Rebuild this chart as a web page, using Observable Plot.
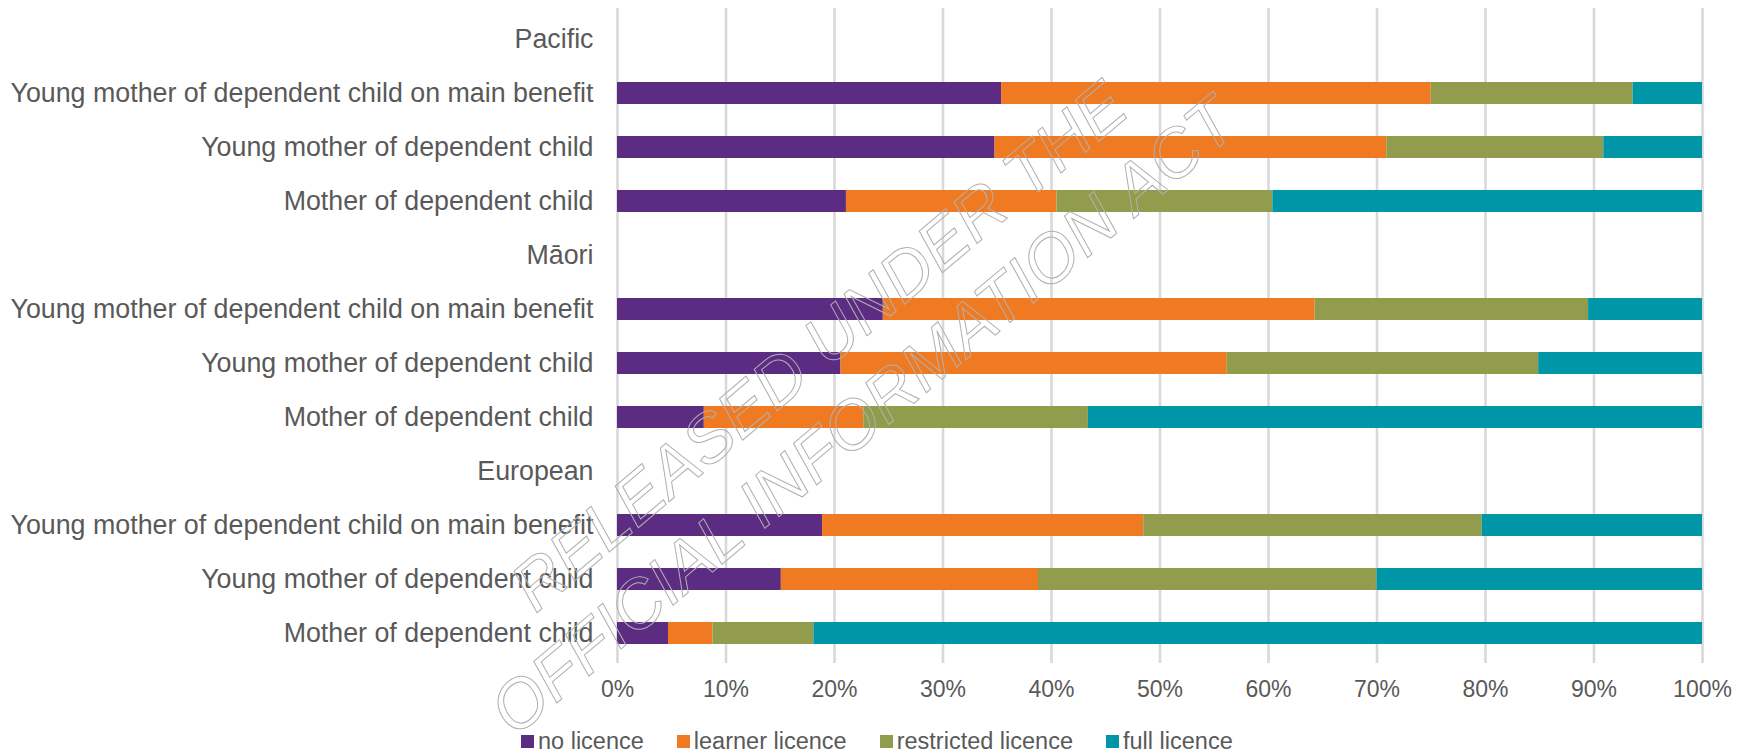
<!DOCTYPE html>
<html>
<head>
<meta charset="utf-8">
<script src="https://cdn.jsdelivr.net/npm/d3@7"></script>
<script src="https://cdn.jsdelivr.net/npm/@observablehq/plot@0.6"></script>
<style>
  html, body { margin: 0; padding: 0; background: #fff; }
  #wrap { position: relative; width: 1750px; height: 754px; overflow: hidden; font-family: "Liberation Sans", Arial, sans-serif; }
  #legend { position: absolute; left: 521px; top: 728px; height: 26px; display: flex; align-items: center; font-size: 23.5px; line-height: 26px; color: #595959; }
  #legend .item { display: flex; align-items: center; margin-right: 33px; }
  #legend .sw { width: 13px; height: 13px; margin-right: 4px; }
  #wm { position: absolute; left: 0; top: 0; pointer-events: none; }
</style>
</head>
<body>
<div id="wrap">
  <div id="chart"></div>
  <div id="legend"></div>
  <svg id="wm" width="1750" height="754"></svg>
</div>
<script>
// ---- data ----
const groups = ["Pacific", "Māori", "European"];
const categories = [
  "Young mother of dependent child on main benefit",
  "Young mother of dependent child",
  "Mother of dependent child"
];
const licenceTypes = ["no licence", "learner licence", "restricted licence", "full licence"];
const licenceColors = ["#5B2C82", "#F07A22", "#929C4D", "#0096A8"];
// values in percent, row order: Pacific (3), Māori (3), European (3)
const noLicence         = [35.4, 34.8, 21.1, 24.5, 20.6,  8.0, 18.9, 15.1,  4.7];
const learnerLicence    = [39.6, 36.1, 19.4, 39.8, 35.6, 14.7, 29.6, 23.7,  4.1];
const restrictedLicence = [18.6, 20.0, 19.9, 25.2, 28.7, 20.7, 31.2, 31.2,  9.3];
const fullLicence       = [ 6.4,  9.1, 39.6, 10.5, 15.1, 56.6, 20.3, 30.0, 81.9];
const xTicks = [0, 0.1, 0.2, 0.3, 0.4, 0.5, 0.6, 0.7, 0.8, 0.9, 1];
const watermarkLines = ["RELEASED UNDER THE", "OFFICIAL INFORMATION ACT"];

// ---- build table ----
const series = [noLicence, learnerLicence, restrictedLicence, fullLicence];
const rowKeys = [];
const data = [];
groups.forEach((g, gi) => {
  rowKeys.push(g);
  categories.forEach((c, ci) => {
    const key = g + "|" + c;
    rowKeys.push(key);
    const idx = gi * categories.length + ci;
    licenceTypes.forEach((l, li) => {
      data.push({row: key, licence: l, value: series[li][idx]});
    });
  });
});

const chart = Plot.plot({
  width: 1750,
  height: 712,
  marginLeft: 617,
  marginRight: 48,
  marginTop: 8,
  marginBottom: 49,
  style: {fontFamily: "'Liberation Sans', Arial, sans-serif", color: "#595959", background: "white", overflow: "visible"},
  x: {domain: [0, 1], label: null},
  y: {domain: rowKeys, paddingInner: 0.6, paddingOuter: 0.3, label: null},
  color: {domain: licenceTypes, range: licenceColors},
  marks: [
    Plot.ruleX(xTicks, {stroke: "#d9d9d9", strokeWidth: 2.6}),
    Plot.barX(data, Plot.stackX({x: "value", y: "row", fill: "licence", offset: "normalize"})),
    Plot.axisX({anchor: "bottom", ticks: xTicks, tickSize: 0, tickPadding: 17, fontSize: 23, tickFormat: d3.format(".0%"), label: null}),
    Plot.axisY({anchor: "left", tickSize: 0, tickPadding: 24, fontSize: 26.8, label: null,
      tickFormat: k => k.includes("|") ? k.split("|")[1] : k})
  ]
});
document.getElementById("chart").appendChild(chart);

// ---- legend ----
const legend = document.getElementById("legend");
licenceTypes.forEach((l, i) => {
  const item = document.createElement("div");
  item.className = "item";
  const sw = document.createElement("span");
  sw.className = "sw";
  sw.style.background = licenceColors[i];
  const tx = document.createElement("span");
  tx.textContent = l;
  item.appendChild(sw);
  item.appendChild(tx);
  legend.appendChild(item);
});

// ---- watermark ----
const wm = d3.select("#wm");
const wmPos = [[822, 350], [866, 420]];
watermarkLines.forEach((t, i) => {
  wm.append("text")
    .attr("transform", `translate(${wmPos[i][0]},${wmPos[i][1]}) rotate(-40)`)
    .attr("text-anchor", "middle")
    .attr("dominant-baseline", "middle")
    .attr("font-family", "'Liberation Sans', Arial, sans-serif")
    .attr("font-style", "italic")
    .attr("font-size", 68)
    .attr("fill", "none")
    .attr("stroke", "#b0b0b0")
    .attr("stroke-width", 1)
    .text(t);
});
</script>
</body>
</html>
